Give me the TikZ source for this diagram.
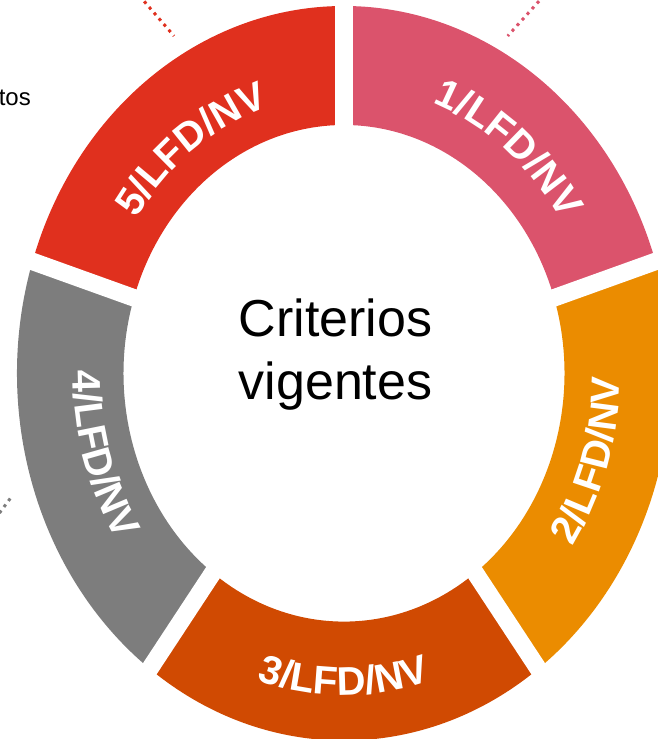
\documentclass[tikz,border=0pt]{standalone}
\usepackage{fontspec}
\setmainfont{Liberation Sans}
\usetikzlibrary{decorations.text}
\definecolor{pwcrose}{HTML}{DB536C}
\definecolor{pwcorange}{HTML}{EB8C00}
\definecolor{pwctang}{HTML}{D04A02}
\definecolor{pwcgrey}{HTML}{7D7D7D}
\definecolor{pwcred}{HTML}{E0301E}
\newcommand\ringseg[3]{\fill[#1] (#2:327 and 367.3) arc[start angle=#2, end angle=#3, x radius=327, y radius=367.3] -- (#3:220.5 and 248.3) arc[start angle=#3, end angle=#2, x radius=220.5, y radius=248.3] -- cycle;}
\newcommand\segfont{\bfseries\fontsize{40}{40}\selectfont}
\begin{document}
\begin{tikzpicture}[x=1pt,y=1pt,
  dotline/.style={line width=3pt, dash pattern=on 3pt off 4.5pt},
  gapline/.style={white, line width=17.5pt},
  seglabel/.style={decorate, decoration={text along path, text align=center, text color=white, text={|\segfont|#1}}}]
\useasboundingbox (0,0) rectangle (658,739);
\clip (0,0) rectangle (658,739);
\coordinate (C) at (344,365.7);
% dotted leaders
\coordinate (ra) at (134.4,749); \coordinate (rb) at (174,703);
\coordinate (pa) at (549,749); \coordinate (pb) at (507.7,703);
\coordinate (ga) at (-5,220); \coordinate (gb) at (12.3,243.3);
\draw[dotline, pwcred] (ra) -- (rb);
\draw[dotline, pwcrose] (pa) -- (pb);
\draw[dotline, pwcgrey] (ga) -- (gb);
\begin{scope}[shift={(C)}]
\ringseg{pwcrose}{18}{90}
\ringseg{pwcorange}{-54}{18}
\ringseg{pwctang}{-126}{-54}
\ringseg{pwcgrey}{162}{234}
\ringseg{pwcred}{90}{162}
\foreach \a in {90,18,-54,-126,162} \draw[gapline] (0,0) -- (\a:380 and 420);
\path[seglabel={1/LFD/NV}] (92:256 and 288) arc[start angle=92, end angle=12, x radius=256, y radius=288];
\path[seglabel={2/LFD/NV}] (-58:276 and 310) arc[start angle=-58, end angle=22, x radius=276, y radius=310];
\path[seglabel={3/LFD/NV}] (-130:286.3 and 322) arc[start angle=-130, end angle=-50, x radius=286.3, y radius=322];
\path[seglabel={4/LFD/NV}] (157:271 and 305) arc[start angle=157, end angle=237, x radius=271, y radius=305];
\path[seglabel={5/LFD/NV}] (166:249 and 280) arc[start angle=166, end angle=86, x radius=249, y radius=280];
\end{scope}
\node[font=\fontsize{52}{63}\selectfont, anchor=base, inner sep=0pt] (t1) at (335.5,402.3) {Criterios};
\node[font=\fontsize{52}{63}\selectfont, anchor=base, inner sep=0pt] (t2) at (335.5,339) {vigentes};
\node[font=\fontsize{24}{28}\selectfont, anchor=base east, inner sep=0pt] (tos) at (31,633) {tos};
\end{tikzpicture}
\end{document}
